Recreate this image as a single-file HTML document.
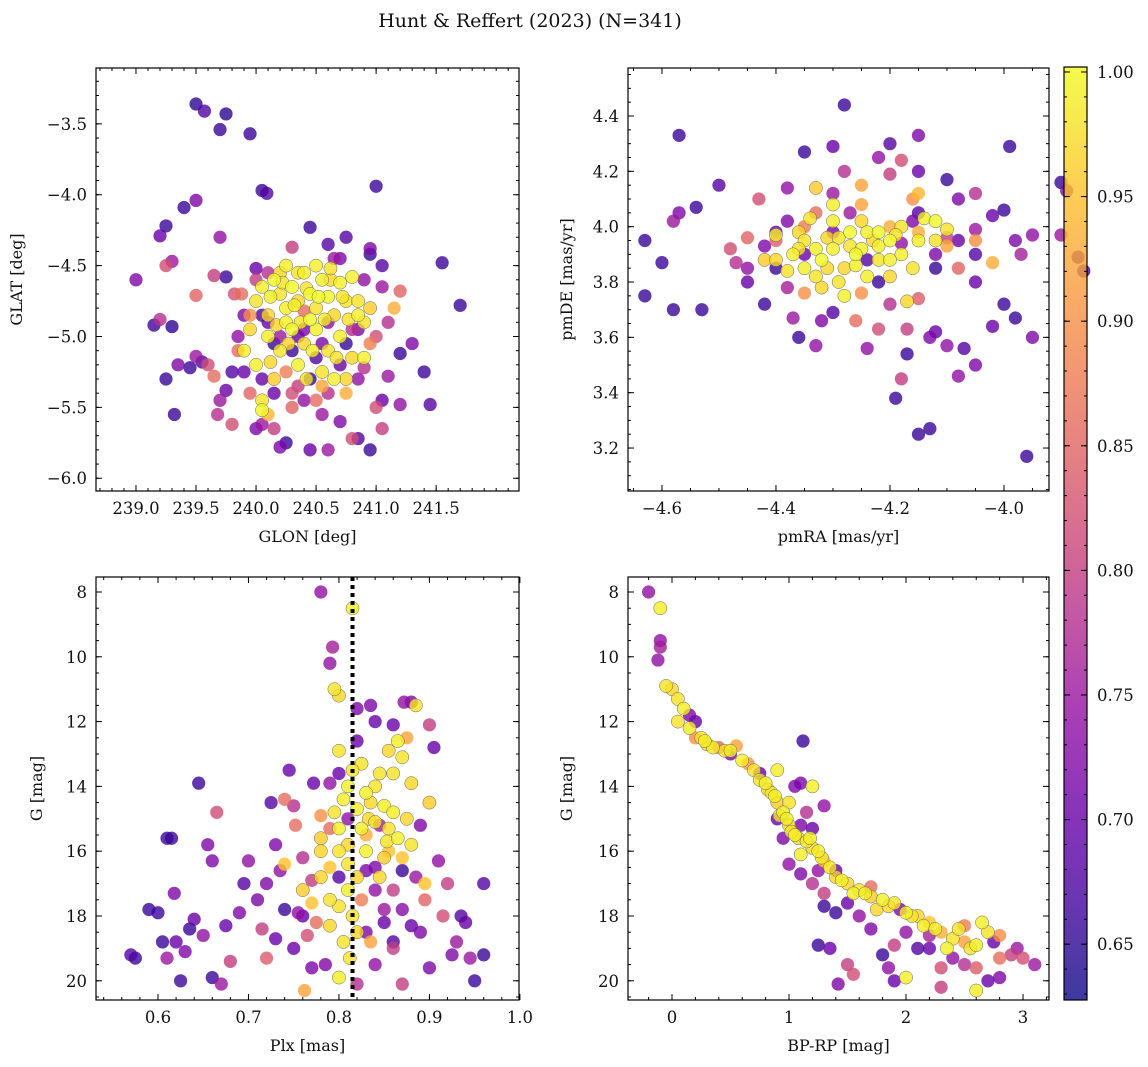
<!DOCTYPE html>
<html><head><meta charset="utf-8"><style>
body{margin:0;background:#fff;}
svg{display:block;font-family:"DejaVu Serif","Liberation Serif",serif;}
</style></head><body>
<svg id="fig" width="1148" height="1067" viewBox="0 0 1148 1067">
<text x="530" y="27" font-size="19" text-anchor="middle" fill="#111">Hunt &amp; Reffert (2023) (N=341)</text>
</svg>
<script>
// ---- data: [x, y, probability] ----
const skyPoints = [
[239.5,-3.36,.65],[239.57,-3.41,.68],[239.7,-3.54,.66],[239.75,-3.43,.65],[239.95,-3.57,.66],[240.05,-3.97,.66],[240.09,-3.99,.68],[241.0,-3.94,.66],[239.25,-4.22,.66],[239.2,-4.29,.70],[239.4,-4.09,.66],[239.5,-4.04,.72],[239.0,-4.6,.72],[239.3,-4.47,.75],[239.25,-4.5,.82],[239.5,-4.71,.85],[239.7,-4.3,.74],[239.65,-4.57,.80],[239.75,-4.58,.66],[239.82,-4.7,.83],[239.88,-4.7,.86],[239.2,-4.88,.78],[239.15,-4.92,.66],[239.3,-4.93,.65],[239.25,-5.3,.66],[239.32,-5.55,.66],[239.35,-5.2,.72],[239.45,-5.22,.66],[239.5,-5.14,.75],[239.55,-5.18,.68],[239.6,-5.2,.82],[239.65,-5.28,.86],[239.7,-5.45,.75],[239.75,-5.38,.70],[239.68,-5.55,.78],[239.8,-5.62,.82],[239.85,-5.1,.86],[239.9,-5.25,.70],[239.95,-5.4,.85],[240.0,-5.65,.72],[240.05,-5.62,.75],[240.1,-5.55,.94],[240.15,-5.65,.80],[240.2,-5.78,.72],[240.25,-5.75,.66],[240.3,-5.5,.85],[240.35,-5.35,.80],[240.45,-5.8,.70],[240.5,-5.45,.86],[240.55,-5.55,.75],[240.6,-5.8,.75],[240.7,-5.6,.72],[240.8,-5.72,.82],[240.85,-5.72,.68],[240.95,-5.8,.66],[241.0,-5.5,.82],[241.05,-5.45,.70],[241.05,-5.65,.80],[241.2,-5.48,.74],[241.45,-5.48,.68],[241.4,-5.25,.66],[241.3,-5.05,.72],[241.2,-5.12,.66],[241.1,-4.9,.78],[241.1,-5.28,.75],[241.15,-4.8,.93],[241.2,-4.68,.85],[241.05,-4.65,.75],[241.05,-4.5,.68],[240.95,-4.42,.66],[240.95,-4.38,.72],[240.75,-4.3,.68],[241.55,-4.48,.66],[241.7,-4.78,.66],[240.45,-4.23,.66],[240.0,-4.52,.70],[240.3,-4.37,.80],[240.6,-4.35,.68],[240.85,-4.95,.72],[240.9,-5.22,.78],[240.95,-5.05,.88],[241.0,-5.0,.82],
[240.0,-4.75,.98],[240.05,-4.65,.99],[240.1,-4.85,.97],[240.15,-4.6,1.0],[240.2,-4.7,.98],[240.25,-4.8,.99],[240.3,-4.65,1.0],[240.35,-4.75,.97],[240.4,-4.55,.99],[240.45,-4.7,1.0],[240.5,-4.8,.98],[240.55,-4.6,.99],[240.6,-4.72,1.0],[240.65,-4.85,.97],[240.7,-4.62,.99],[240.75,-4.75,.98],[240.85,-4.85,.99],[240.9,-4.9,.98],[240.1,-5.0,.99],[240.2,-5.1,.98],[240.3,-4.95,1.0],[240.4,-5.05,.97],[240.5,-4.95,.99],[240.6,-5.1,.98],[240.7,-5.0,.99],[240.8,-5.15,.97],[240.0,-5.2,.99],[240.15,-5.3,.96],[240.35,-5.2,.99],[240.55,-5.25,.98],[240.75,-5.3,.97],[240.9,-5.15,.99],[240.05,-5.45,.98],[240.25,-4.9,.99],[240.45,-4.88,1.0],[240.65,-5.3,.99],[240.85,-4.75,.98],[240.95,-4.8,.96],[240.2,-4.55,.97],[240.5,-4.5,.99],[240.35,-4.55,.98],[239.95,-4.95,.97],[239.9,-5.1,.99],[240.05,-5.52,1.0],[240.8,-4.58,.99],
[240.12,-4.72,.99],[240.22,-4.62,.98],[240.32,-4.78,.99],[240.42,-4.66,.98],[240.52,-4.72,1.0],[240.62,-4.6,.97],[240.72,-4.72,.98],[240.17,-4.92,.97],[240.37,-4.9,.98],[240.57,-4.88,.99],[240.77,-4.88,.98],[240.27,-5.05,.97],[240.47,-5.1,.99],[240.67,-5.15,.98],[240.12,-5.18,.97],[240.42,-5.3,.98],[240.62,-4.52,.98],[240.25,-4.5,.99],
[240.0,-4.6,.80],[240.1,-4.9,.70],[240.2,-5.0,.75],[240.3,-5.1,.66],[240.4,-4.95,.72],[240.5,-5.15,.68],[240.6,-4.9,.74],[240.7,-5.2,.70],[240.8,-4.95,.78],[240.45,-5.3,.66],[240.25,-5.25,.88],[239.95,-4.85,.90],[240.65,-4.45,.75],[240.55,-5.35,.92],[240.15,-5.4,.70],[239.85,-5.0,.74],[240.75,-5.4,.93],[240.4,-4.82,.86],[240.3,-5.4,.82],
[239.9,-4.85,.72],[240.05,-4.85,.68],[240.15,-5.05,.66],[240.35,-5.0,.70],[240.55,-5.05,.72],[240.75,-5.05,.66],[240.85,-5.3,.74],[240.05,-5.3,.70],[239.8,-5.25,.68],[240.6,-5.4,.78],[240.4,-5.45,.74],[240.1,-4.55,.78],[240.9,-4.6,.74],[240.7,-4.45,.72]
];
const pmPoints = [
[-4.28,4.44,.66],[-4.57,4.33,.66],[-4.2,4.3,.68],[-4.15,4.33,.72],[-4.3,4.29,.70],[-4.35,4.27,.66],[-3.99,4.29,.66],[-3.9,4.16,.66],[-3.89,4.13,.72],
[-4.63,3.95,.66],[-4.6,3.87,.66],[-4.63,3.75,.66],[-4.58,3.7,.66],[-4.53,3.7,.66],[-4.58,4.02,.75],[-4.57,4.05,.72],[-4.54,4.07,.66],[-4.5,4.15,.68],[-4.48,3.92,.82],[-4.47,3.87,.78],[-4.45,3.96,.85],[-4.43,4.1,.82],[-4.4,3.98,.70],[-4.38,4.14,.74],[-4.4,3.85,.66],[-4.37,3.67,.75],[-4.35,4.0,.88],[-4.33,4.05,.86],[-4.3,4.12,.75],[-4.28,4.2,.78],[-4.22,4.25,.74],[-4.2,4.19,.80],[-4.18,4.24,.82],[-4.15,4.2,.70],[-4.1,4.17,.66],[-4.08,4.1,.72],[-4.05,4.12,.78],[-4.02,4.04,.70],[-4.0,4.06,.66],[-3.98,3.95,.72],[-3.95,3.97,.74],[-3.9,3.97,.75],[-3.87,3.89,.66],[-3.86,3.84,.66],[-3.97,3.9,.76],[-4.02,3.87,.93],[-4.05,3.8,.70],[-4.0,3.72,.66],[-3.98,3.67,.66],[-4.02,3.64,.70],[-3.95,3.6,.72],[-4.07,3.56,.68],[-4.05,3.5,.72],[-4.08,3.46,.74],[-4.12,3.62,.70],[-4.13,3.6,.72],[-4.15,3.74,.84],[-4.17,3.54,.66],[-4.17,3.63,.80],[-4.18,3.45,.80],[-4.15,3.25,.66],[-4.13,3.27,.66],[-4.19,3.38,.66],[-4.22,3.63,.82],[-4.26,3.66,.86],[-4.24,3.56,.74],[-4.3,3.69,.68],[-4.33,3.57,.74],[-4.36,3.6,.66],[-4.32,3.66,.72],[-3.96,3.17,.66],[-4.1,3.57,.74],[-4.2,3.72,.78],[-4.25,3.76,.90],[-4.38,3.78,.76],[-4.42,3.72,.66],[-4.45,3.8,.70],[-4.12,3.9,.72],[-4.1,3.96,.80],[-4.05,3.99,.75],[-4.15,4.05,.68],[-4.15,4.12,.94],[-4.16,4.1,.90],[-4.38,4.02,.72],[-4.25,4.15,.92],[-4.33,4.14,.96],[-4.4,3.95,.84],
[-4.35,3.95,.98],[-4.32,3.88,1.0],[-4.3,3.92,.99],[-4.28,3.85,.97],[-4.27,3.98,1.0],[-4.25,3.92,.99],[-4.22,3.88,.98],[-4.2,3.95,1.0],[-4.18,3.9,.99],[-4.33,3.82,.98],[-4.3,4.02,.99],[-4.25,4.02,.97],[-4.22,3.98,1.0],[-4.37,3.9,.99],[-4.4,3.88,.97],[-4.35,3.85,.99],[-4.29,3.8,.98],[-4.24,3.82,.99],[-4.2,3.82,.97],[-4.16,3.85,.98],[-4.14,4.03,.99],[-4.12,4.02,1.0],[-4.18,4.0,.98],[-4.26,3.9,1.0],[-4.31,3.96,.97],[-4.36,3.92,.98],[-4.4,3.97,.99],[-4.42,3.88,.96],[-4.28,3.75,.99],[-4.22,3.93,.99],[-4.1,3.99,.98],[-4.17,3.73,.97],[-4.34,4.03,.98],[-4.3,4.08,.99],
[-4.33,3.92,.99],[-4.29,3.96,.98],[-4.26,3.86,.99],[-4.23,3.95,.97],[-4.2,3.88,.99],[-4.31,3.85,.97],[-4.27,3.93,.98],[-4.24,3.98,.99],[-4.36,3.98,.97],[-4.38,3.84,.98],[-4.15,3.95,.99],[-4.19,3.97,.98],[-4.32,3.78,.97],[-4.12,3.95,.98],
[-4.2,4.0,.93],[-4.1,3.93,.92],[-4.05,3.95,.9],[-4.15,3.98,.93],[-4.08,3.85,.85],[-4.25,4.08,.92],[-4.35,3.76,.9],
[-4.3,3.98,.72],[-4.24,3.88,.68],[-4.18,3.94,.74],[-4.35,3.9,.70],[-4.12,3.85,.66],[-4.27,4.05,.75],[-4.42,3.93,.72],[-4.08,3.95,.70],[-4.22,3.8,.66],[-4.45,3.85,.74],[-4.05,3.9,.68],[-4.16,4.02,.72]
];
const plxPoints = [
[0.57,19.2,.68],[0.575,19.3,.66],[0.59,17.8,.66],[0.6,17.9,.66],[0.605,18.8,.66],[0.61,19.3,.75],[0.61,15.6,.66],[0.615,15.6,.66],[0.618,17.3,.72],[0.62,18.8,.70],[0.625,20.0,.66],[0.63,19.1,.72],[0.635,18.4,.66],[0.64,18.1,.70],[0.645,13.9,.66],[0.65,18.6,.74],[0.655,15.8,.72],[0.66,16.3,.72],[0.66,19.9,.66],[0.665,14.8,.82],[0.67,20.1,.75],[0.675,18.3,.70],[0.68,19.4,.80],[0.69,17.9,.72],[0.695,17.0,.68],[0.7,16.3,.74],[0.71,17.5,.72],[0.715,18.4,.80],[0.72,17.0,.72],[0.725,14.5,.68],[0.72,19.3,.84],[0.73,18.7,.70],[0.735,16.6,.74],[0.74,16.4,.95],[0.745,13.5,.70],[0.75,14.6,.78],[0.752,15.2,.86],[0.755,17.9,.74],[0.76,17.2,.96],[0.762,20.3,.92],[0.765,18.6,.82],[0.77,16.9,.80],[0.772,13.9,.70],[0.775,18.2,.86],[0.78,8.0,.74],[0.78,16.0,.97],[0.785,19.5,.72],[0.79,15.3,.86],[0.79,10.2,.74],[0.793,9.7,.76],[0.795,11.0,.98],[0.8,11.2,.97],[0.8,12.9,.98],[0.805,14.4,.99],[0.81,15.8,.97],[0.815,8.5,.99],[0.81,17.2,.99],[0.812,19.3,.98],[0.82,11.6,.72],[0.82,12.6,.70],[0.825,13.3,.98],[0.83,14.2,.99],[0.833,15.0,.97],[0.835,11.5,.72],[0.84,12.0,.70],[0.84,16.5,.72],[0.845,13.6,.98],[0.85,14.6,.99],[0.853,15.7,.98],[0.855,12.9,.97],[0.86,12.1,.70],[0.86,17.2,.80],[0.865,12.6,.99],[0.87,13.1,.98],[0.872,11.4,.74],[0.875,12.5,.92],[0.88,11.4,.72],[0.885,11.5,.98],[0.885,16.8,.75],[0.89,18.5,.72],[0.895,17.5,.85],[0.9,12.1,.80],[0.905,12.8,.70],[0.91,16.3,.74],[0.915,18.0,.82],[0.92,17.0,.80],[0.925,19.2,.72],[0.93,18.8,.75],[0.935,18.0,.68],[0.94,18.2,.70],[0.945,19.3,.75],[0.95,20.0,.66],[0.96,17.0,.68],[0.96,19.2,.66],[0.9,14.5,.96],[0.88,15.8,.98],[0.87,16.2,.95],[0.86,14.8,.99],[0.84,14.0,.98],[0.83,15.5,.93],[0.82,16.8,.97],[0.8,17.7,.98],[0.79,18.3,.97],[0.805,18.8,.98],[0.79,16.5,.95],[0.8,15.3,.99],[0.795,14.8,.98],[0.78,16.8,.97],[0.8,19.9,.99],[0.85,17.8,.75],[0.83,18.5,.72],[0.84,19.5,.74],[0.86,19.0,.80],[0.88,18.3,.70],[0.9,19.6,.72],[0.87,20.1,.80],[0.82,20.1,.78],[0.77,19.6,.72],[0.75,19.0,.70],[0.73,15.8,.72],[0.74,14.4,.86],[0.78,14.9,.90],[0.76,16.2,.78],[0.85,16.2,.96],[0.875,15.0,.97],[0.855,16.0,.95],[0.815,13.5,.98],[0.825,17.5,.88],[0.835,18.8,.92],[0.895,17.0,.95],[0.87,17.8,.73],[0.845,15.2,.76],[0.8,13.6,.70],[0.79,13.9,.74],[0.86,18.8,.68],
[0.82,14.7,.99],[0.84,15.1,.98],[0.83,16.0,.99],[0.81,16.4,.98],[0.835,14.5,.97],[0.825,15.3,.99],[0.855,15.3,.98],[0.865,15.6,.99],[0.845,16.8,.97],[0.815,18.0,.98],[0.82,18.5,.97],[0.79,17.5,.98],[0.81,14.0,.99],[0.86,13.6,.98],[0.88,13.9,.97],[0.78,15.6,.96],[0.77,17.6,.95],[0.8,16.0,.98],
[0.83,16.6,.72],[0.8,16.8,.68],[0.85,18.2,.70],[0.81,15.0,.74],[0.87,16.6,.66],[0.84,17.2,.74],[0.89,15.2,.72],[0.76,18.0,.70],[0.74,17.8,.66]
];
const cmdPoints = [
[-0.2,8.0,.74],[-0.1,8.5,.99],[-0.1,9.5,.74],[-0.1,9.7,.76],[-0.12,10.1,.74],[-0.05,10.9,.98],[0.0,11.0,.97],[0.05,11.3,.98],[0.1,11.6,.99],[0.05,12.0,.98],[0.15,11.8,.72],[0.2,12.0,.70],[0.15,12.2,.99],[0.25,12.5,.98],[0.3,12.7,.97],[0.2,12.5,.90],[0.35,12.8,.99],[0.45,12.9,.98],[0.5,13.0,.72],[0.55,12.75,.92],[0.6,13.2,.99],[0.7,13.5,.98],[0.75,13.6,.70],[0.8,13.9,.99],[0.85,14.2,.98],[0.9,14.5,.96],[1.0,14.5,.98],[1.1,13.9,.72],[1.2,14.0,.99],[1.3,14.6,.74],[1.15,14.8,.78],[0.95,14.8,.99],[1.0,15.2,.97],[1.05,15.5,.99],[1.1,15.2,.72],[1.15,15.7,.98],[1.2,15.9,.97],[1.25,16.0,.99],[1.3,16.3,.95],[1.35,16.5,.98],[1.4,16.6,.70],[1.45,16.9,.99],[1.5,17.0,.97],[1.6,17.2,.98],[1.7,17.4,.96],[1.8,17.5,.99],[1.9,17.6,.98],[2.0,17.9,.99],[2.1,18.0,.97],[2.2,18.2,.95],[2.3,18.5,.93],[2.4,18.7,.98],[2.5,18.8,.92],[2.6,18.9,.99],[2.7,18.5,.98],[2.8,18.6,.90],[2.9,19.2,.80],[3.0,19.3,.82],[3.1,19.5,.75],[2.8,19.9,.72],[2.7,20.0,.70],[2.6,20.3,.99],[2.5,19.5,.78],[2.4,19.3,.74],[2.3,19.6,.82],[2.2,19.0,.70],[2.1,19.0,.68],[2.0,19.9,.99],[1.9,18.9,.80],[1.8,19.2,.66],[1.7,18.4,.72],[1.6,18.0,.74],[1.5,17.6,.70],[1.4,17.9,.66],[1.3,17.7,.66],[1.2,17.0,.78],[1.1,16.7,.72],[1.0,16.4,.74],[1.12,12.6,.66],[1.25,18.9,.66],[1.35,19.0,.70],[1.5,19.5,.80],[1.55,19.8,.82],[1.42,20.1,.72],[1.85,19.6,.74],[1.9,20.0,.70],[2.3,20.2,.80],[2.6,19.6,.84],[2.8,19.3,.86],[2.5,18.3,.88],[2.2,18.6,.76],[2.0,18.5,.74],[1.95,17.8,.72],[1.7,17.1,.86],[1.3,17.3,.80],[1.25,16.6,.74],[1.1,16.1,.99],[0.95,15.6,.72],[0.9,15.0,.70],[1.05,14.0,.72],[1.2,15.3,.70],[0.9,13.5,.99],[0.65,13.3,.90],[0.4,12.8,.86],[2.65,18.2,.99],[2.45,18.4,.98],[2.15,18.3,.99],[1.75,17.8,.97],[1.55,17.3,.99],[2.35,19.0,.99],[2.55,19.0,.98],[2.95,19.0,.75],[2.75,18.8,.70],
[0.92,14.9,.98],[0.98,15.0,.99],[1.02,15.4,.98],[1.08,15.6,.97],[0.88,14.3,.99],[0.75,13.8,.98],[0.82,14.1,.97],[1.18,15.6,.99],[1.28,16.2,.98],[1.4,16.8,.97],[1.65,17.3,.99],[1.85,17.7,.97],[2.05,18.0,.98],[2.25,18.4,.99],[0.5,12.9,.99],[0.28,12.6,.99]
];
const skyXTicks=[239.0,239.5,240.0,240.5,241.0,241.5];
const skyYTicks=[-3.5,-4.0,-4.5,-5.0,-5.5,-6.0];
const pmXTicks=[-4.6,-4.4,-4.2,-4.0];
const pmYTicks=[4.4,4.2,4.0,3.8,3.6,3.4,3.2];
const plxXTicks=[0.6,0.7,0.8,0.9,1.0];
const magTicks=[8,10,12,14,16,18,20];
const cmdXTicks=[0,1,2,3];
const cbarTicks=[0.65,0.70,0.75,0.80,0.85,0.90,0.95,1.00];
const meanPlx=0.815;

const NS="http://www.w3.org/2000/svg";
const svg=document.getElementById('fig');
const plasma=["#0d0887","#41049d","#6a00a8","#8f0da4","#b12a90","#cc4778","#e16462","#f2844b","#fca636","#fcce25","#f0f921"];
const PMIN=0.6276,PMAX=1.0;
function hex(h){return [1,3,5].map(i=>parseInt(h.substr(i,2),16));}
function cmap(p){let t=(p-PMIN)/(PMAX-PMIN);t=Math.max(0,Math.min(1,t))*10;const i=Math.min(9,Math.floor(t)),f=t-i;const a=hex(plasma[i]),b=hex(plasma[i+1]);return 'rgb('+a.map((v,k)=>Math.round(v+(b[k]-v)*f)).join(',')+')';}
function mk(tag,attrs,parent){const e=document.createElementNS(NS,tag);for(const k in attrs)e.setAttribute(k,attrs[k]);(parent||svg).appendChild(e);return e;}
function fmt(v,d){return (v<0?'\u2212':'')+Math.abs(v).toFixed(d);}

function panel(c){
  const g=mk('g',{});
  
  
  const sx=v=>c.L+(v-c.x0)/(c.x1-c.x0)*(c.R-c.L);
  const sy=v=>c.T+(v-c.y0)/(c.y1-c.y0)*(c.B-c.T);
  const pts=c.data.slice().sort((a,b)=>a[2]-b[2]);
  const pg=mk('g',{},g);
  
  
  pts.forEach(d=>{
    const ci=mk('circle',{cx:sx(d[0]),cy:sy(d[1]),r:6.6,fill:cmap(d[2]),'fill-opacity':0.8,stroke:d[2]>0.95?'#666':'none','stroke-width':0.5},pg);
    
    
  });
  if(c.vline!==undefined){
    const l=mk('line',{x1:sx(c.vline),x2:sx(c.vline),y1:c.T,y2:c.B,stroke:'#000','stroke-width':4,'stroke-dasharray':'4,4'},g);
    
    
  }
  const box=mk('rect',{x:c.L,y:c.T,width:c.R-c.L,height:c.B-c.T,fill:'none',stroke:'#000','stroke-width':1.2},g);
  
  
  const tk=mk('g',{stroke:'#000','stroke-width':1},g);
  const lo=Math.min(c.x0,c.x1),hi=Math.max(c.x0,c.x1);
  for(let v=Math.ceil(lo/c.xm)*c.xm;v<=hi;v+=c.xm){const x=sx(v);mk('line',{x1:x,x2:x,y1:c.B,y2:c.B-3},tk);mk('line',{x1:x,x2:x,y1:c.T,y2:c.T+3},tk);}
  const ylo=Math.min(c.y0,c.y1),yhi=Math.max(c.y0,c.y1);
  for(let v=Math.ceil(ylo/c.ym)*c.ym;v<=yhi;v+=c.ym){const y=sy(v);mk('line',{x1:c.L,x2:c.L+3,y1:y,y2:y},tk);mk('line',{x1:c.R,x2:c.R-3,y1:y,y2:y},tk);}
  c.xt.forEach(v=>{const x=sx(v);mk('line',{x1:x,x2:x,y1:c.B,y2:c.B-6},tk);mk('line',{x1:x,x2:x,y1:c.T,y2:c.T+6},tk);
    const t=mk('text',{x:x,y:c.B+23,'font-size':16.5,'text-anchor':'middle',fill:'#111'},g);t.textContent=fmt(v,c.xd);
    });
  c.yt.forEach(v=>{const y=sy(v);mk('line',{x1:c.L,x2:c.L+6,y1:y,y2:y},tk);mk('line',{x1:c.R,x2:c.R-6,y1:y,y2:y},tk);
    const t=mk('text',{x:c.L-9,y:y+6,'font-size':16.5,'text-anchor':'end',fill:'#111'},g);t.textContent=fmt(v,c.yd);
    });
  const xl=mk('text',{x:(c.L+c.R)/2,y:c.B+51,'font-size':16,'text-anchor':'middle',fill:'#111'},g);xl.textContent=c.xlab;
  
  const cy=(c.T+c.B)/2;
  const yl=mk('text',{x:c.ylx,y:cy,'font-size':16,'text-anchor':'middle',fill:'#111',transform:'rotate(-90 '+c.ylx+' '+cy+')'},g);yl.textContent=c.ylab;
  
}

panel({name:'sky-position-panel',data:skyPoints,L:96,R:519,T:68,B:491,x0:238.667,x1:242.19,y0:-3.106,y1:-6.09,xt:skyXTicks,yt:skyYTicks,xm:0.1,ym:0.1,xd:1,yd:1,xlab:'GLON [deg]',ylab:'GLAT [deg]',ylx:22});
panel({name:'proper-motion-panel',data:pmPoints,L:628,R:1049,T:68,B:491,x0:-4.6596,x1:-3.921,y0:4.5735,y1:3.0447,xt:pmXTicks,yt:pmYTicks,xm:0.05,ym:0.05,xd:1,yd:1,xlab:'pmRA [mas/yr]',ylab:'pmDE [mas/yr]',ylx:572});
panel({name:'parallax-magnitude-panel',data:plxPoints,vline:meanPlx,L:96,R:519,T:577,B:1000,x0:0.5315,x1:0.999,y0:7.537,y1:20.593,xt:plxXTicks,yt:magTicks,xm:0.02,ym:0.5,xd:1,yd:0,xlab:'Plx [mas]',ylab:'G [mag]',ylx:42});
panel({name:'color-magnitude-panel',data:cmdPoints,L:628,R:1049,T:577,B:1000,x0:-0.376,x1:3.222,y0:7.537,y1:20.593,xt:cmdXTicks,yt:magTicks,xm:0.2,ym:0.5,xd:0,yd:0,xlab:'BP-RP [mag]',ylab:'G [mag]',ylx:572});

(function(){
  const L=1064,R=1087,T=67,B=1000,v0=1.002,v1=0.6276;
  const sy=v=>T+(v-v0)/(v1-v0)*(B-T);
  const defs=mk('defs',{});
  const lg=mk('linearGradient',{id:'cb',x1:0,y1:1,x2:0,y2:0},defs);
  for(let i=0;i<=20;i++){const p=PMIN+(v0-PMIN)*i/20;mk('stop',{offset:i/20,'stop-color':cmap(p),'stop-opacity':0.8},lg);}
  const g=mk('g',{});
  
  
  mk('rect',{x:L,y:T,width:R-L,height:B-T,fill:'url(#cb)',stroke:'#000','stroke-width':1.2},g);
  for(let v=0.63;v<=1.0001;v+=0.01){const y=sy(v);mk('line',{x1:R,x2:R-3,y1:y,y2:y,stroke:'#000'},g);mk('line',{x1:L,x2:L+3,y1:y,y2:y,stroke:'#000'},g);}
  cbarTicks.forEach(v=>{const y=sy(v);mk('line',{x1:R,x2:R-6,y1:y,y2:y,stroke:'#000'},g);mk('line',{x1:L,x2:L+6,y1:y,y2:y,stroke:'#000'},g);
    const t=mk('text',{x:R+10,y:y+6,'font-size':16.5,fill:'#111'},g);t.textContent=v.toFixed(2);
    });
})();
</script>
</body></html>
